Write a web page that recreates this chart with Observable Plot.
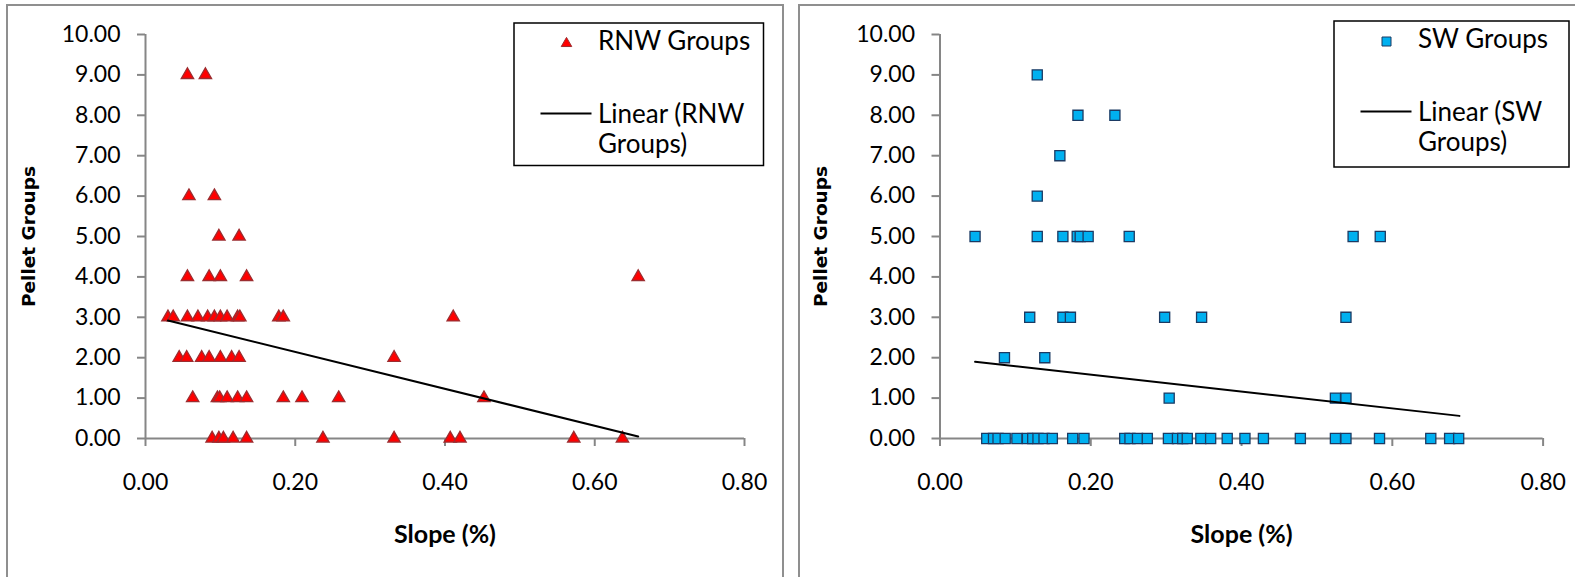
<!DOCTYPE html>
<html>
<head>
<meta charset="utf-8">
<script src="https://cdn.jsdelivr.net/npm/d3@7"></script>
<script src="https://cdn.jsdelivr.net/npm/@observablehq/plot@0.6"></script>
<style>
  html, body { margin: 0; padding: 0; background: #fff; }
  body { position: relative; width: 1575px; height: 577px; overflow: hidden; font-family: Lato, sans-serif; }
  .panel { position: absolute; top: 4px; height: 620px; border: 2px solid #8f8f8f; box-sizing: border-box; }
  #p1 { left: 6px; width: 778px; }
  #p2 { left: 798px; width: 800px; }
  .chart { position: absolute; top: 0; }
  #c1 { left: 0; }
  #c2 { left: 790px; }
  #overlay { position: absolute; left: 0; top: 0; }
</style>
</head>
<body>
<div class="panel" id="p1"></div>
<div class="panel" id="p2"></div>
<div class="chart" id="c1"></div>
<div class="chart" id="c2"></div>
<svg id="overlay" width="1575" height="577"></svg>
<script>
// ---------- data ----------
const xTicks = [0, 0.2, 0.4, 0.6, 0.8];
const yTicks = [0, 1, 2, 3, 4, 5, 6, 7, 8, 9, 10];
const xLabel = "Slope (%)";
const yLabel = "Pellet Groups";

// RNW Groups (red triangles)
const rnwSlope = [
  0.056, 0.080,
  0.058, 0.092,
  0.098, 0.125,
  0.056, 0.085, 0.100, 0.135, 0.658,
  0.030, 0.037, 0.056, 0.070, 0.083, 0.092, 0.100, 0.109, 0.123, 0.126, 0.178, 0.184, 0.411,
  0.045, 0.055, 0.075, 0.085, 0.100, 0.115, 0.125, 0.332,
  0.063, 0.096, 0.099, 0.109, 0.123, 0.135, 0.184, 0.209, 0.258, 0.452,
  0.089, 0.098, 0.104, 0.117, 0.135, 0.237, 0.332, 0.407, 0.420, 0.572, 0.637
];
const rnwGroups = [
  9, 9,
  6, 6,
  5, 5,
  4, 4, 4, 4, 4,
  3, 3, 3, 3, 3, 3, 3, 3, 3, 3, 3, 3, 3,
  2, 2, 2, 2, 2, 2, 2, 2,
  1, 1, 1, 1, 1, 1, 1, 1, 1, 1,
  0, 0, 0, 0, 0, 0, 0, 0, 0, 0, 0
];
const rnwTrendSlope = [0.030, 0.658];
const rnwTrendGroups = [2.92, 0.05];

// SW Groups (blue squares)
const swSlope = [
  0.129,
  0.183, 0.232,
  0.159,
  0.129,
  0.0465, 0.129, 0.163, 0.182, 0.186, 0.1965, 0.251, 0.548, 0.584,
  0.119, 0.163, 0.173, 0.298, 0.347, 0.5385,
  0.0855, 0.139,
  0.304, 0.5245, 0.5385,
  0.062, 0.071, 0.077, 0.0865, 0.102, 0.116, 0.123, 0.130, 0.138, 0.149, 0.176, 0.191,
  0.245, 0.252, 0.262, 0.275, 0.303, 0.315, 0.322, 0.328, 0.346, 0.359, 0.381, 0.4045,
  0.429, 0.478, 0.5245, 0.5385, 0.583, 0.651, 0.676, 0.688
];
const swGroups = [
  9,
  8, 8,
  7,
  6,
  5, 5, 5, 5, 5, 5, 5, 5, 5,
  3, 3, 3, 3, 3, 3,
  2, 2,
  1, 1, 1,
  0, 0, 0, 0, 0, 0, 0, 0, 0, 0, 0, 0,
  0, 0, 0, 0, 0, 0, 0, 0, 0, 0, 0, 0,
  0, 0, 0, 0, 0, 0, 0, 0
];
const swTrendSlope = [0.0465, 0.689];
const swTrendGroups = [1.90, 0.56];

const seriesNames = ["RNW Groups", "SW Groups"];
const trendNames = ["Linear (RNW|Groups)", "Linear (SW|Groups)"];

// ---------- helpers ----------
const zip = (xs, ys) => xs.map((x, i) => ({x, y: ys[i]}));
const axisGray = "#868686";

function makeChart({points, trend, symbol, r, fill, stroke, width, marginLeft, marginRight, yTitleDx}) {
  return Plot.plot({
    width,
    height: 577,
    marginLeft,
    marginRight,
    marginTop: 34,
    marginBottom: 139,
    style: {background: "transparent", overflow: "visible", fontFamily: "Lato, sans-serif", fontSize: "23px", color: "#000"},
    x: {domain: [0, 0.8]},
    y: {domain: [0, 10]},
    marks: [
      Plot.ruleY([0], {stroke: axisGray, strokeWidth: 2}),
      Plot.ruleX([0], {stroke: axisGray, strokeWidth: 2}),
      Plot.axisY({ticks: yTicks, tickFormat: d3.format(".2f"), tickSize: 8, tickPadding: 17, stroke: axisGray, strokeWidth: 2, fill: "#000", label: null}),
      Plot.axisX({ticks: xTicks, tickFormat: d3.format(".2f"), tickSize: 8, tickPadding: 27, stroke: axisGray, strokeWidth: 2, fill: "#000", label: null}),
      Plot.dot(points, {x: "x", y: "y", symbol, r, fill, stroke, strokeWidth: 1.3}),
      Plot.line(trend, {x: "x", y: "y", stroke: "#000", strokeWidth: 2}),
      Plot.text([yLabel], {frameAnchor: "left", dx: yTitleDx, rotate: -90, textAnchor: "middle", lineAnchor: "middle", fontFamily: "DejaVu Sans", fontWeight: "bold", fontSize: 18.5, fill: "#000"}),
      Plot.text([xLabel], {frameAnchor: "bottom", dy: 96, textAnchor: "middle", lineAnchor: "middle", fontFamily: "Lato", fontWeight: "bold", fontSize: 25, fill: "#000"})
    ]
  });
}

document.getElementById("c1").append(makeChart({
  points: zip(rnwSlope, rnwGroups),
  trend: zip(rnwTrendSlope, rnwTrendGroups),
  symbol: "triangle", r: 4.6, fill: "#ff0000", stroke: "#9b2d30",
  width: 790, marginLeft: 145, marginRight: 46, yTitleDx: -116
}));
document.getElementById("c2").append(makeChart({
  points: zip(swSlope, swGroups),
  trend: zip(swTrendSlope, swTrendGroups),
  symbol: "square", r: 5.7, fill: "#00b0f0", stroke: "#1b3a63",
  width: 785, marginLeft: 149.5, marginRight: 32.4, yTitleDx: -118.5
}));

// ---------- legends ----------
const ov = d3.select("#overlay");
function legend({x, y, w, h, sym, symSize, fill, stroke, name, trend}) {
  const g = ov.append("g");
  g.append("rect").attr("x", x).attr("y", y).attr("width", w).attr("height", h)
    .attr("fill", "#fff").attr("stroke", "#000").attr("stroke-width", 1.5);
  const cx = x + 52.5;
  g.append("path").attr("d", d3.symbol(sym, symSize)())
    .attr("transform", `translate(${cx},${y + 20.5})`)
    .attr("fill", fill).attr("stroke", stroke).attr("stroke-width", 1);
  g.append("line").attr("x1", cx - 26).attr("x2", cx + 25).attr("y1", y + 90.5).attr("y2", y + 90.5)
    .attr("stroke", "#000").attr("stroke-width", 2);
  const tx = x + 84;
  const t = {"font-family": "Lato, sans-serif", "font-size": 26, fill: "#000"};
  const add = (txt, by) => {
    const e = g.append("text").attr("x", tx).attr("y", by).text(txt);
    Object.entries(t).forEach(([k, v]) => e.attr(k, v));
  };
  add(name, y + 27);
  const [l1, l2] = trend.split("|");
  add(l1, y + 100);
  add(l2, y + 130);
}
legend({x: 514, y: 23, w: 249.5, h: 142.5, sym: d3.symbolTriangle, symSize: 48, fill: "#ff0000", stroke: "#9b2d30", name: seriesNames[0], trend: trendNames[0]});
legend({x: 1334, y: 21, w: 235, h: 146, sym: d3.symbolSquare, symSize: 81, fill: "#00b0f0", stroke: "#1b3a63", name: seriesNames[1], trend: trendNames[1]});
</script>
</body>
</html>
